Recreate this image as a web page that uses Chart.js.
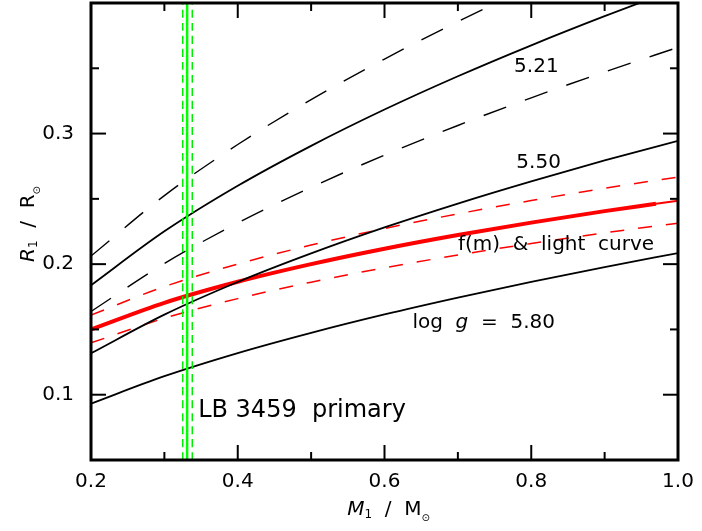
<!DOCTYPE html>
<html>
<head>
<meta charset="utf-8">
<script src="https://cdn.jsdelivr.net/npm/chart.js@4"></script>
<style>
  html, body { margin: 0; padding: 0; background: #fff; }
  #wrap { width: 702px; height: 531px; }
</style>
</head>
<body>
<div id="wrap"><canvas id="chart" width="702" height="531"></canvas></div>
<script>
const FONT = "DejaVu Sans";

// primary mass grid (solar masses)
const mass = [0.2, 0.3, 0.4, 0.5, 0.6, 0.7, 0.8, 0.9, 1.0];

// radius for constant surface gravity
const logg580 = [0.0932, 0.1142, 0.1319, 0.1474, 0.1615, 0.1744, 0.1865, 0.1978, 0.2085];
const logg550 = [0.1317, 0.1613, 0.1863, 0.2082, 0.2281, 0.2464, 0.2634, 0.2794, 0.2945];
const logg521 = [0.1838, 0.2251, 0.2600, 0.2906, 0.3184, 0.3439, 0.3676, 0.3899, 0.4110];
const logg521Lo = [0.2062, 0.2525, 0.2916, 0.3260, 0.3571, 0.3857, 0.4123, 0.4374, 0.4610];
const logg521Hi = [0.1637, 0.2005, 0.2315, 0.2588, 0.2835, 0.3062, 0.3274, 0.3472, 0.3660];

// mass function + light curve solution
const fmMass = [0.2, 0.3, 0.4, 0.5, 0.6, 0.7, 0.8, 0.9, 0.97];
const fmRadius = [0.1500, 0.1704, 0.1865, 0.2000, 0.2118, 0.2223, 0.2318, 0.2406, 0.2463];
const fmTailMass = [0.97, 1.0];
const fmTailRadius = [0.2463, 0.2486];
const fmUpper = [0.1610, 0.1828, 0.2001, 0.2146, 0.2273, 0.2385, 0.2487, 0.2581, 0.2667];
const fmLower = [0.1397, 0.1586, 0.1736, 0.1862, 0.1972, 0.2070, 0.2158, 0.2240, 0.2314];

// spectroscopic mass of the primary and its error
const massBest = 0.331;
const massLo = 0.325;
const massHi = 0.338;

const xTicks = [0.2, 0.4, 0.6, 0.8, 1.0];
const xMinor = [0.3, 0.5, 0.7, 0.9];
const yTicks = [0.1, 0.2, 0.3];
const yMinor = [0.15, 0.25, 0.35];
const xRange = [0.2, 1.0];
const yRange = [0.05, 0.4];

const pts = (xs, ys) => xs.map((x, i) => ({ x: x, y: ys[i] }));
const vline = m => [{ x: m, y: yRange[0] }, { x: m, y: yRange[1] }];

function curve(data, color, width, dash) {
  return {
    data: data,
    showLine: true,
    borderColor: color,
    borderWidth: width,
    borderDash: dash || [],
    pointRadius: 0,
    cubicInterpolationMode: "monotone",
    fill: false
  };
}

// first dataset is painted last, so the mass markers sit on top
const datasets = [
  curve(vline(massLo), "#00ee00", 1.5, [8, 5]),
  curve(vline(massHi), "#00ee00", 1.5, [8, 5]),
  curve(vline(massBest), "#00ff00", 2.5),
  curve(pts(mass, logg580), "#000", 1.8),
  curve(pts(mass, logg550), "#000", 1.8),
  curve(pts(mass, logg521), "#000", 1.8),
  curve(pts(mass, logg521Lo), "#000", 1.4, [24, 20]),
  curve(pts(mass, logg521Hi), "#000", 1.4, [24, 20]),
  curve(pts(mass, fmUpper), "#ff0000", 1.5, [14, 14]),
  curve(pts(mass, fmLower), "#ff0000", 1.5, [14, 14]),
  curve(pts(fmTailMass, fmTailRadius), "#ff0000", 2),
  curve(pts(fmMass, fmRadius), "#ff0000", 4)
];

// text placed in data coordinates
const notes = [
  { text: "5.21", x: 0.807, y: 0.351, align: "center" },
  { text: "5.50", x: 0.810, y: 0.278, align: "center" },
  { text: "f(m)  &  light  curve", x: 0.700, y: 0.2145, align: "left" },
  { text: "LB 3459  primary", x: 0.346, y: 0.0878, align: "left", size: 24 }
];

function drawRuns(ctx, runs, x, y) {
  // runs: [text, size, italic, dy]
  let cx = x;
  for (const r of runs) {
    ctx.font = (r[2] ? "italic " : "") + r[1] + "px " + FONT;
    ctx.fillText(r[0], cx, y + (r[3] || 0));
    cx += ctx.measureText(r[0]).width;
  }
  return cx - x;
}

function runsWidth(ctx, runs) {
  let w = 0;
  for (const r of runs) {
    ctx.font = (r[2] ? "italic " : "") + r[1] + "px " + FONT;
    w += ctx.measureText(r[0]).width;
  }
  return w;
}

const decor = {
  id: "decor",
  afterDraw(chart) {
    const ctx = chart.ctx;
    const a = chart.chartArea;
    const xs = chart.scales.x, ys = chart.scales.y;
    ctx.save();
    ctx.strokeStyle = "#000";
    ctx.fillStyle = "#000";

    // inward tick marks on all four sides
    ctx.lineWidth = 2;
    const tick = (x1, y1, x2, y2) => {
      ctx.beginPath(); ctx.moveTo(x1, y1); ctx.lineTo(x2, y2); ctx.stroke();
    };
    xTicks.concat(xMinor).forEach(v => {
      const px = xs.getPixelForValue(v);
      const len = xTicks.includes(v) ? 15 : 8;
      tick(px, a.bottom, px, a.bottom - len);
      tick(px, a.top, px, a.top + len);
    });
    yTicks.concat(yMinor).forEach(v => {
      const py = ys.getPixelForValue(v);
      const len = yTicks.includes(v) ? 15 : 8;
      tick(a.left, py, a.left + len, py);
      tick(a.right, py, a.right - len, py);
    });

    // frame
    ctx.lineWidth = 3;
    ctx.strokeRect(a.left, a.top, a.right - a.left, a.bottom - a.top);

    // curve labels
    ctx.textBaseline = "middle";
    notes.forEach(n => {
      ctx.font = (n.size || 20) + "px " + FONT;
      ctx.textAlign = n.align;
      ctx.fillText(n.text, xs.getPixelForValue(n.x), ys.getPixelForValue(n.y));
    });

    ctx.textAlign = "left";
    const gRuns = [["log  ", 20], ["g", 20, true], ["  =  5.80", 20]];
    drawRuns(ctx, gRuns, xs.getPixelForValue(0.638), ys.getPixelForValue(0.155));

    // x axis title
    const xRuns = [["M", 20, true], ["1", 12, false, 5], ["  /  M", 20], ["\u2299", 10, false, 8]];
    const xw = runsWidth(ctx, xRuns);
    drawRuns(ctx, xRuns, xs.getPixelForValue(0.6) - xw / 2 + 4, 510);

    // y axis title, rotated
    const yRuns = [["R", 20, true], ["1", 12, false, 5], ["  /  R", 20], ["\u2299", 10, false, 8]];
    const yw = runsWidth(ctx, yRuns);
    ctx.translate(29, 224);
    ctx.rotate(-Math.PI / 2);
    drawRuns(ctx, yRuns, -yw / 2, 0);
    ctx.restore();
  }
};

new Chart(document.getElementById("chart"), {
  type: "scatter",
  data: { datasets: datasets },
  options: {
    responsive: false,
    animation: false,
    layout: { padding: { top: 3, right: 24, left: 0, bottom: 0 } },
    plugins: { legend: { display: false }, tooltip: { enabled: false } },
    scales: {
      x: {
        type: "linear",
        min: xRange[0],
        max: xRange[1],
        grid: { display: false },
        border: { display: false },
        afterBuildTicks: s => { s.ticks = xTicks.map(v => ({ value: v })); },
        afterFit: s => { s.height = 71; s.paddingLeft = 0; s.paddingRight = 0; },
        ticks: {
          color: "#000",
          padding: 2,
          maxRotation: 0,
          font: { family: FONT, size: 20 },
          callback: v => v.toFixed(1)
        }
      },
      y: {
        type: "linear",
        min: yRange[0],
        max: yRange[1],
        grid: { display: false },
        border: { display: false },
        afterBuildTicks: s => { s.ticks = yTicks.map(v => ({ value: v })); },
        afterFit: s => { s.width = 91; s.paddingTop = 0; s.paddingBottom = 0; },
        ticks: {
          color: "#000",
          padding: 9,
          font: { family: FONT, size: 20 },
          callback: v => v.toFixed(1)
        }
      }
    }
  },
  plugins: [decor]
});
</script>
</body>
</html>
